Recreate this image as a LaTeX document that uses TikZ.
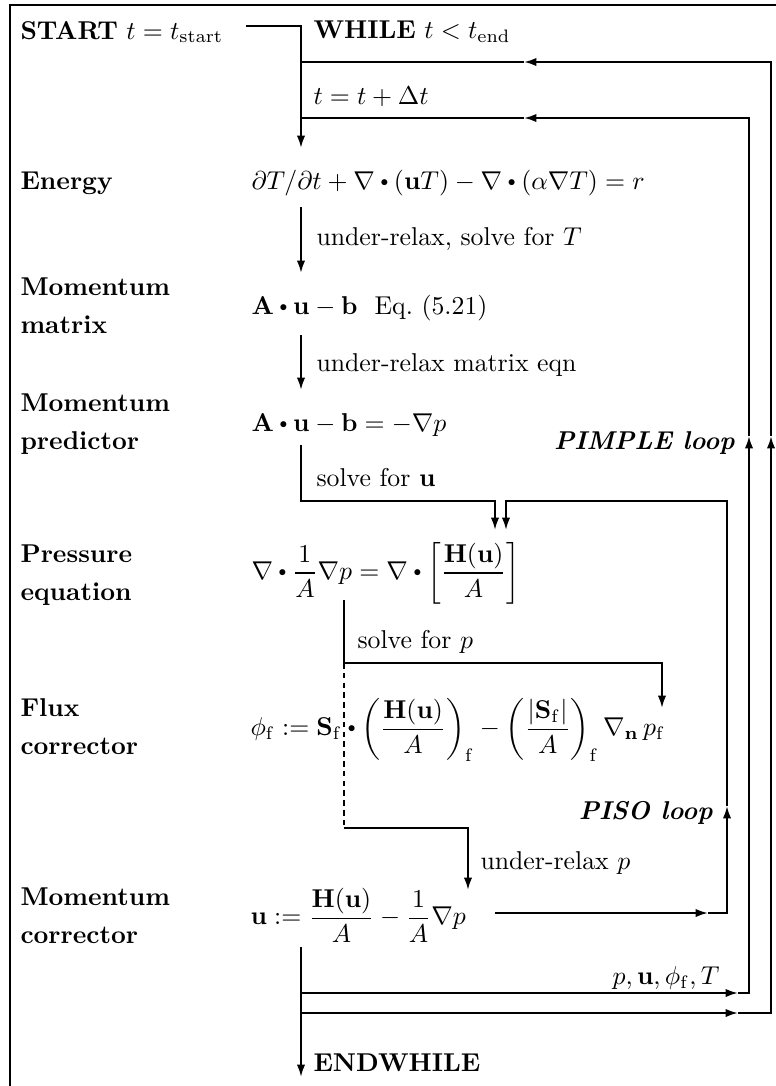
\documentclass[tikz,border=0pt]{standalone}
\usepackage{amsmath}
\usepackage{graphicx}
\usepackage{tikz}
\usetikzlibrary{arrows.meta, positioning}

\newcommand{\dotp}{\mathbin{\vcenter{\hbox{\scalebox{0.6}{$\bullet$}}}}}

\begin{document}
\begin{tikzpicture}[
        x=0.01364cm, y=-0.01364cm,
        stage/.style={anchor=west, inner sep=0pt, align=left, font=\bfseries},
        eqn/.style={anchor=west, inner sep=0pt},
        note/.style={anchor=west, inner sep=0pt},
        loopname/.style={anchor=east, inner sep=0pt, font=\bfseries\itshape},
        arrow/.style={-{Latex[length=1.7mm, width=1.15mm]}, thick},
        link/.style={thick},
        frame/.style={line width=1.1pt}
    ]
        \useasboundingbox (0,0) rectangle (776,1086);
        \draw[frame] (776,5) -- (10,5) -- (10,1086);

        % header
        \node[eqn] (start) at (20,32) {\textbf{START} $t=t_\mathrm{start}$};
        \node[eqn] (while) at (313,32) {\textbf{WHILE} $t<t_\mathrm{end}$};
        \node[eqn] (tstep) at (313,97) {$t=t+\Delta t$};

        % stages
        \node[stage] (lenergy) at (20,183) {Energy};
        \node[eqn] (energy) at (251,183) {$\partial T/\partial t+\nabla\dotp(\mathbf{u}T)-\nabla\dotp(\alpha\nabla T)=r$};
        \node[note] (n1) at (316,239) {under-relax, solve for $T$};

        \node[stage] (lmatrix) at (20,306) {Momentum\\[2.7pt]matrix};
        \node[eqn] (matrix) at (251,308) {$\mathbf{A}\dotp\mathbf{u}-\mathbf{b}$\ \ Eq.~(5.21)};
        \node[note] (n2) at (316,365) {under-relax matrix eqn};

        \node[stage] (lpredictor) at (20,424) {Momentum\\[2.7pt]predictor};
        \node[eqn] (predictor) at (251,425) {$\mathbf{A}\dotp\mathbf{u}-\mathbf{b}=-\nabla p$};
        \node[note] (n3) at (316,478) {solve for $\mathbf{u}$};
        \node[loopname] (pimple) at (735,443) {PIMPLE loop};

        \node[stage] (lpressure) at (20,575) {Pressure\\[2.7pt]equation};
        \node[eqn] (pressure) at (251,573) {$\displaystyle\nabla\dotp\frac{1}{A}\nabla p=\nabla\dotp\left[\frac{\mathbf{H}(\mathbf{u})}{A}\right]$};
        \node[note] (n4) at (357,642) {solve for $p$};

        \node[stage] (lflux) at (20,727) {Flux\\[2.7pt]corrector};
        \node[eqn] (flux) at (250,730) {$\displaystyle\phi_\mathrm{f}:=\mathbf{S}_\mathrm{f}\dotp\left(\frac{\mathbf{H}(\mathbf{u})}{A}\right)_\mathrm{f}-\left(\frac{|\mathbf{S}_\mathrm{f}|}{A}\right)_\mathrm{f}\nabla_\mathbf{n}\,p_\mathrm{f}$};
        \node[loopname] (piso) at (713,813) {PISO loop};
        \node[note] (n5) at (480,863) {under-relax $p$};

        \node[stage] (lcorrector) at (20,916) {Momentum\\[2.7pt]corrector};
        \node[eqn] (corrector) at (250,915) {$\displaystyle\mathbf{u}:=\frac{\mathbf{H}(\mathbf{u})}{A}-\frac{1}{A}\nabla p$};
        \node[note, anchor=east] (fields) at (720,978) {$p,\mathbf{u},\phi_\mathrm{f},T$};
        \node[eqn] (endwhile) at (313,1063) {\textbf{ENDWHILE}};

        % corners of the connectors
        \coordinate (sa) at (246,26);  \coordinate (sb) at (301,26);  \coordinate (sc) at (301,148);
        \coordinate (ta) at (301,62);  \coordinate (tb) at (524,62);  \coordinate (tc) at (771,62);
        \coordinate (pa) at (301,118); \coordinate (pb) at (524,118); \coordinate (pc) at (749,118);
        \coordinate (e1) at (301,207); \coordinate (e2) at (301,273);
        \coordinate (m1) at (301,335); \coordinate (m2) at (301,390);
        \coordinate (u1) at (301,445); \coordinate (u2) at (301,501);
        \coordinate (u3) at (495,501); \coordinate (u4) at (495,530);
        \coordinate (q1) at (344,600); \coordinate (q2) at (344,663);
        \coordinate (q3) at (662,663); \coordinate (q4) at (662,708);
        \coordinate (q5) at (344,828); \coordinate (q6) at (468,828); \coordinate (q7) at (468,890);
        \coordinate (c1) at (495,913); \coordinate (c2) at (708,913); \coordinate (c3) at (727,913);
        \coordinate (c4) at (727,806); \coordinate (c5) at (727,501);
        \coordinate (c6) at (506,501); \coordinate (c7) at (506,530);
        \coordinate (z1) at (301,947); \coordinate (z2) at (301,1077);
        \coordinate (z3) at (301,993); \coordinate (z4) at (738,993); \coordinate (z5) at (749,993);
        \coordinate (z6) at (749,436);
        \coordinate (z7) at (301,1013); \coordinate (z8) at (738,1013); \coordinate (z9) at (771,1013);
        \coordinate (z10) at (771,436);

        % main path
        \draw[arrow] (sa) -- (sb) -- (sc);
        \draw[arrow] (e1) -- (e2);
        \draw[arrow] (m1) -- (m2);
        \draw[arrow] (u1) -- (u2) -- (u3) -- (u4);
        \draw[arrow] (q1) -- (q2) -- (q3) -- (q4);
        \draw[semithick, dash pattern=on 2.2pt off 1.6pt] (q2) -- (q5);
        \draw[arrow] (q5) -- (q6) -- (q7);
        \draw[arrow] (z1) -- (z2);

        % PISO loop
        \draw[arrow] (c1) -- (c2);
        \draw[arrow] (c2) -- (c3) -- (c4);
        \draw[arrow] (c4) -- (c5) -- (c6) -- (c7);

        % PIMPLE loop
        \draw[arrow] (z3) -- (z4);
        \draw[arrow] (z4) -- (z5) -- (z6);
        \draw[arrow] (z6) -- (pc) -- (pb);
        \draw[link] (pb) -- (pa);

        % time loop
        \draw[arrow] (z7) -- (z8);
        \draw[arrow] (z8) -- (z9) -- (z10);
        \draw[arrow] (z10) -- (tc) -- (tb);
        \draw[link] (tb) -- (ta);
    \end{tikzpicture}
\end{document}
